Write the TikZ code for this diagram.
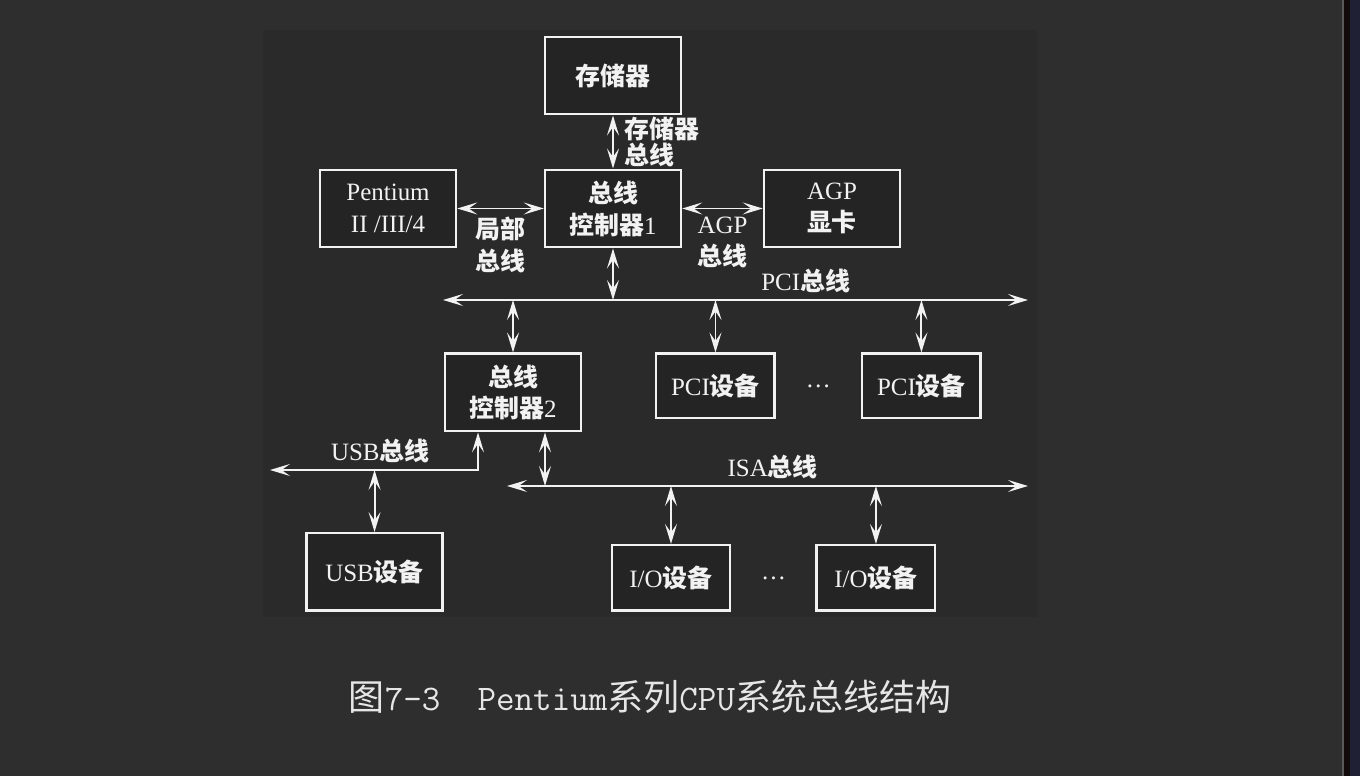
\documentclass[tikz,border=0pt]{standalone}
\usepackage{fontspec}
\setmainfont{Liberation Serif}
\newfontfamily\cjk{Noto Sans CJK SC}
\usetikzlibrary{arrows.meta, positioning}

\definecolor{pagebg}{HTML}{2E2E2E}
\definecolor{panelbg}{HTML}{2A2A2A}
\definecolor{boxbg}{HTML}{242424}
\definecolor{ink}{HTML}{F2F2F2}
\definecolor{edgegray}{HTML}{5A5A5A}
\definecolor{edgedark}{HTML}{120A0A}
\definecolor{edgenavy}{HTML}{1F2033}

\newcommand{\zh}[1]{{\cjk\bfseries #1}}
\newcommand{\bodyfont}{\fontsize{14.2}{18.2}\selectfont}

\begin{document}
\begin{tikzpicture}[x=0.02cm, y=0.02cm, on grid, node distance=2cm,
    unit/.style={draw=ink, line width=1.4pt, fill=boxbg, text=ink, align=center,
      minimum width=2.72cm, minimum height=1.55cm, font=\bodyfont},
    dev/.style={unit, minimum width=2.37cm, minimum height=1.29cm},
    lbl/.style={text=ink, align=center, font=\bodyfont},
    link/.style={draw=ink, line width=1.1pt,
      >={Stealth[length=4mm, width=2.4mm, inset=1.7mm]}}]

   % page and panel
   \fill[pagebg] (0,0) rectangle (1360,776);
   \useasboundingbox (0,0) rectangle (1360,776);
   \fill[panelbg] (263,159) rectangle (1037,746);
   \fill[edgegray] (1342,0) rectangle (1344,776);
   \fill[edgedark] (1344,0) rectangle (1350,776);
   \fill[edgenavy] (1350,0) rectangle (1360,776);

   % units
   \node[unit] (ctrl1) at (613,567.5) {\zh{总线}\\\zh{控制器}1};
   \node[unit] (mem) [above=2.66cm of ctrl1] {\zh{存储器}};
   \node[unit] (cpu) [left=4.5cm of ctrl1] {Pentium\\II /III/4};
   \node[unit] (agp) [right=4.38cm of ctrl1] {AGP\\\zh{显卡}};
   \node[unit] (ctrl2) [below left=3.68cm and 2cm of ctrl1] {\zh{总线}\\\zh{控制器}2};
   \node[dev] (pci1) [below right=3.55cm and 2.05cm of ctrl1] {PCI\zh{设备}};
   \node[lbl] (pcidots) [right=2.06cm of pci1] {\textellipsis};
   \node[dev] (pci2) [right=4.12cm of pci1] {PCI\zh{设备}};
   \node[unit] (usb) [below left=3.59cm and 2.77cm of ctrl2] {USB\zh{设备}};
   \node[dev, minimum height=1.31cm] (io1) [below right=3.71cm and 3.16cm of ctrl2] {I/O\zh{设备}};
   \node[lbl] (iodots) [right=2.05cm of io1] {\textellipsis};
   \node[dev, minimum height=1.31cm] (io2) [right=4.1cm of io1] {I/O\zh{设备}};

   % bus ends
   \coordinate (pciL) at (443,476);
   \coordinate (pciR) at (1028,476);
   \coordinate (isaL) at (507,290);
   \coordinate (isaR) at (1028,290);
   \coordinate (usbL) at (270,306);
   \coordinate (usbC) at (478,306);

   % links
   \draw[link, <->] (mem) -- node[lbl, right, xshift=0.1cm, align=left,
      font=\fontsize{14.2}{14.8}\selectfont] {\zh{存储器}\\\zh{总线}} (ctrl1);
   \draw[link, <->] (cpu) -- node[lbl, below, yshift=-0.04cm] {\zh{局部}\\\zh{总线}} (ctrl1);
   \draw[link, <->] (ctrl1) -- node[lbl, below, yshift=-0.04cm] {AGP\\\zh{总线}} (agp);
   \draw[link, <->] (pciL) -- node[lbl, above, pos=0.62] {PCI\zh{总线}} (pciR);
   \draw[link, <->] (ctrl1) -- (ctrl1 |- pciL);
   \draw[link, <->] (ctrl2) -- (ctrl2 |- pciL);
   \draw[link, <->] (pci1) -- (pci1 |- pciL);
   \draw[link, <->] (pci2) -- (pci2 |- pciL);
   \draw[link, <->] (isaL) -- node[lbl, above, pos=0.51] {ISA\zh{总线}} (isaR);
   \draw[link, <->] ([xshift=0.64cm]ctrl2.south) -- ([xshift=0.64cm]ctrl2.south |- isaL);
   \draw[link, <->] (usbL) -- node[lbl, above, pos=0.53] {USB\zh{总线}} (usbC)
      -- ([xshift=-0.7cm]ctrl2.south);
   \draw[link, <->] (usb) -- (usb |- usbL);
   \draw[link, <->] (io1) -- (io1 |- isaL);
   \draw[link, <->] (io2) -- (io2 |- isaL);

   % caption
   \node[text=ink!95!black, font=\fontsize{20.5}{23}\selectfont] (caption) at (650,79)
      {{\cjk 图}{\ttfamily 7-3\ \ Pentium}{\cjk 系列}{\ttfamily CPU}{\cjk 系统总线结构}};
\end{tikzpicture}
\end{document}
